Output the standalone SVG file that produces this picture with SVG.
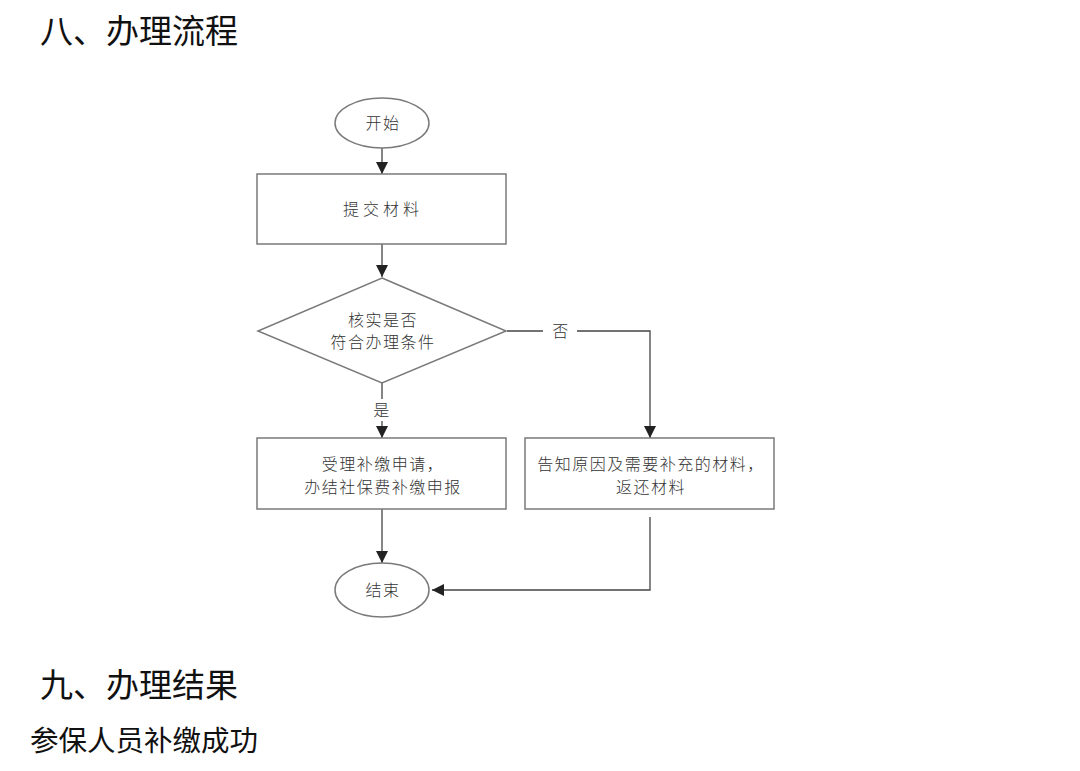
<svg xmlns="http://www.w3.org/2000/svg" width="1080" height="771" viewBox="0 0 1080 771">
<style>
.h{font-family:"Noto Sans CJK SC","Noto Sans",sans-serif;fill:#111;}
.t{font-family:"Noto Sans CJK SC","Noto Sans",sans-serif;font-size:16px;fill:#333;text-anchor:middle;letter-spacing:1.5px;font-weight:300;}
.s{fill:#fff;stroke:#7a7a7a;stroke-width:1.5;}
.c{fill:none;stroke:#444;stroke-width:1.3;}
</style>
<defs>
<marker id="ah" markerUnits="userSpaceOnUse" markerWidth="12" markerHeight="12" viewBox="0 0 12 12" refX="12" refY="6" orient="auto">
<path d="M0,0 L12,6 L0,12 Z" fill="#222"/>
</marker>
</defs>
<rect width="1080" height="771" fill="#fff"/>
<text class="h" x="40" y="43" font-size="33">八、办理流程</text>
<text class="h" x="40" y="697" font-size="33">九、办理结果</text>
<text class="h" x="30" y="751" font-size="28.5" fill="#222">参保人员补缴成功</text>

<g id="connectors">
<line class="c" x1="382" y1="148" x2="382" y2="174" marker-end="url(#ah)"/>
<line class="c" x1="382" y1="244" x2="382" y2="277" marker-end="url(#ah)"/>
<line class="c" x1="382" y1="383" x2="382" y2="399"/>
<line class="c" x1="382" y1="421" x2="382" y2="438" marker-end="url(#ah)"/>
<line class="c" x1="507" y1="331" x2="543" y2="331"/>
<polyline class="c" points="577,331 650,331 650,438" marker-end="url(#ah)"/>
<line class="c" x1="382" y1="509" x2="382" y2="563" marker-end="url(#ah)"/>
<polyline class="c" points="650,517 650,590 432,590" marker-end="url(#ah)"/>
<text class="t" x="382" y="416">是</text>
<text class="t" x="561" y="337">否</text>
</g>

<g id="start">
<ellipse class="s" cx="382" cy="123" rx="47" ry="25"/>
<text class="t" x="383" y="129">开始</text>
</g>
<g id="submit">
<rect class="s" x="257" y="174" width="249" height="70"/>
<text class="t" x="383" y="215" style="letter-spacing:4px">提交材料</text>
</g>
<g id="check">
<polygon class="s" points="382,278 506,331 382,383 258,331"/>
<text class="t" x="383" y="326">核实是否</text>
<text class="t" x="383" y="348">符合办理条件</text>
</g>
<g id="accept">
<rect class="s" x="257" y="438" width="249" height="71"/>
<text class="t" x="383" y="470">受理补缴申请，</text>
<text class="t" x="383" y="493">办结社保费补缴申报</text>
</g>
<g id="reject">
<rect class="s" x="525" y="438" width="249" height="71"/>
<text class="t" x="651" y="470">告知原因及需要补充的材料，</text>
<text class="t" x="651" y="493">返还材料</text>
</g>
<g id="end">
<ellipse class="s" cx="382" cy="590" rx="47" ry="27"/>
<text class="t" x="383" y="596">结束</text>
</g>
</svg>
